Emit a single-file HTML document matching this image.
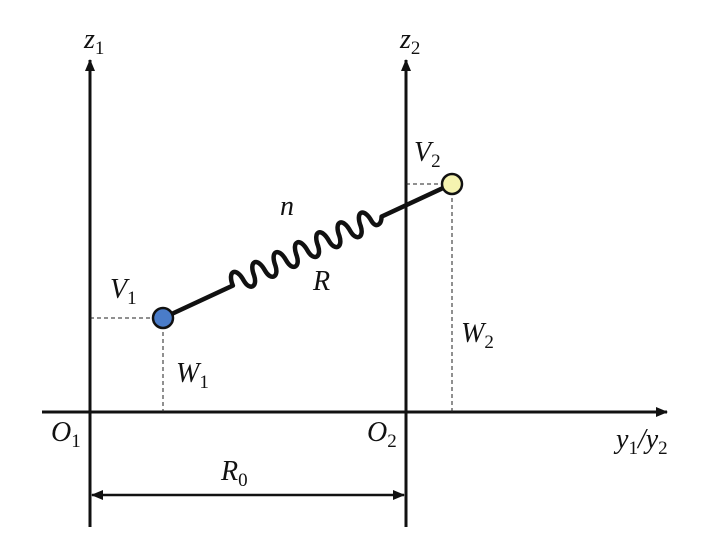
<!DOCTYPE html>
<html><head><style>
html,body{margin:0;padding:0;background:#fff;width:720px;height:550px;overflow:hidden}
text{font-family:"Liberation Serif",serif;font-style:italic;fill:#111}
.s{font-style:normal;font-size:19px}
</style></head><body>
<svg width="720" height="550" viewBox="0 0 720 550" xmlns="http://www.w3.org/2000/svg">
<defs>
<marker id="a" markerWidth="12" markerHeight="12" refX="11" refY="6" orient="auto-start-reverse" markerUnits="userSpaceOnUse"><path d="M0,1 L12,6 L0,11 Z" fill="#111"/></marker>
</defs>
<g stroke="#111" stroke-width="3" fill="none">
<line x1="90" y1="527" x2="90" y2="60" marker-end="url(#a)"/>
<line x1="406" y1="527" x2="406" y2="60" marker-end="url(#a)"/>
<line x1="42" y1="412" x2="667" y2="412" marker-end="url(#a)"/>
<line x1="92" y1="495" x2="404" y2="495" marker-start="url(#a)" marker-end="url(#a)" stroke-width="2.5"/>
</g>
<g stroke="#222" stroke-width="1" stroke-dasharray="4,3" fill="none">
<line x1="90" y1="318" x2="163" y2="318"/>
<line x1="163" y1="318" x2="163" y2="412"/>
<line x1="406" y1="184" x2="452" y2="184"/>
<line x1="452" y1="184" x2="452" y2="412"/>
</g>
<g transform="translate(163,318) rotate(-24.9)" stroke="#111" stroke-width="4.5" fill="none" stroke-linejoin="round">
<path d="M0,0 L77,0
C78,-16 88,-16 89,0 C90,12 99,12 100.5,0
C101.5,-16 111.5,-16 112.5,0 C113.5,12 122.5,12 124,0
C125,-16 135,-16 136,0 C137,12 146,12 147.5,0
C148.5,-16 158.5,-16 159.5,0 C160.5,12 169.5,12 171,0
C172,-16 182,-16 183,0 C184,12 193,12 194.5,0
C195.5,-16 205.5,-16 206.5,0 C207.5,12 216.5,12 218,0
C219,-16 229,-16 230,0 C231,8 237,8 241,0 L319,0"/>
</g>
<circle cx="163" cy="318" r="10" fill="#4a7cc9" stroke="#111" stroke-width="2.5"/>
<circle cx="452" cy="184" r="10" fill="#f5f3b0" stroke="#111" stroke-width="2.5"/>
<g font-size="28">
<text x="84" y="48">z<tspan class="s" dy="6">1</tspan></text>
<text x="400" y="48">z<tspan class="s" dy="6">2</tspan></text>
<text x="110" y="298">V<tspan class="s" dy="6">1</tspan></text>
<text x="414" y="161">V<tspan class="s" dy="6">2</tspan></text>
<text x="176" y="382">W<tspan class="s" dy="6">1</tspan></text>
<text x="461" y="342">W<tspan class="s" dy="6">2</tspan></text>
<text x="280" y="215">n</text>
<text x="313" y="290">R</text>
<text x="51" y="441">O<tspan class="s" dy="6">1</tspan></text>
<text x="367" y="441">O<tspan class="s" dy="6">2</tspan></text>
<text x="221" y="480">R<tspan class="s" dy="6">0</tspan></text>
<text x="616" y="448">y<tspan class="s" dy="6">1</tspan><tspan dy="-6">/y</tspan><tspan class="s" dy="6">2</tspan></text>
</g>
</svg>
</body></html>
